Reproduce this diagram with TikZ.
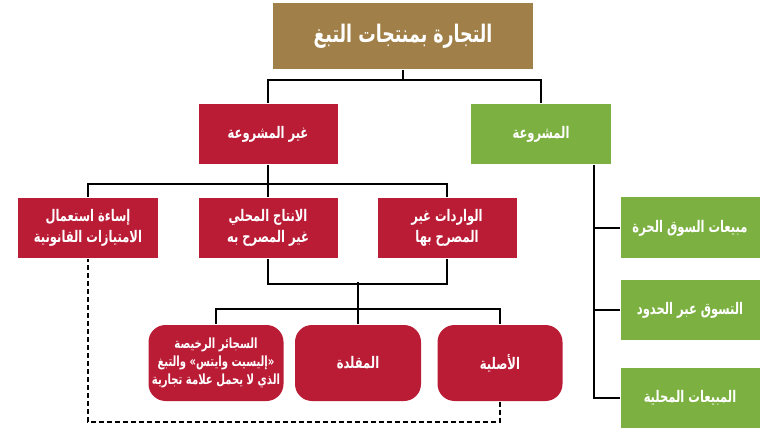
\documentclass[tikz,border=0pt]{standalone}
\usepackage{fontspec}
\newfontfamily\arabicfont[Script=Arabic, FakeStretch=0.72]{DejaVu Sans}
\TeXXeTstate=1
\newcommand{\artext}[1]{\beginR#1\endR}
\definecolor{goldbox}{RGB}{160,128,72}
\definecolor{redbox}{RGB}{186,28,54}
\definecolor{greenbox}{RGB}{124,177,66}

\begin{document}
\begin{tikzpicture}[x=1pt, y=-1pt, line width=1.8pt,
	every node/.style={font=\arabicfont\bfseries\fontsize{16}{21}\selectfont, text=white, align=center, inner sep=0pt},
	head/.style={fill=goldbox, minimum width=260pt, minimum height=66pt, font=\arabicfont\bfseries\fontsize{24.2}{26}\selectfont},
	bad/.style={fill=redbox, minimum width=139pt, minimum height=60pt},
	good/.style={fill=greenbox, minimum width=139pt, minimum height=60pt},
	kind/.style={fill=redbox, minimum height=76pt, rounded corners=17pt}]
	\useasboundingbox (0,0) rectangle (770,435);
	\node[head] (trade) at (403,36) {\artext{التجارة بمنتجات التبغ}};
	\node[bad] (illegal) at (268,134) {\artext{غير المشروعة}};
	\node[good, minimum width=140pt] (legal) at (541,134) {\artext{المشروعة}};
	\node[bad, minimum width=140pt] (misuse) at (88,228) {\artext{إساءة استعمال}\\\artext{الامتيازات القانونية}};
	\node[bad] (local) at (268,228) {\artext{الانتاج المحلي}\\\artext{غير المصرح به}};
	\node[bad] (imports) at (447,228) {\artext{الواردات غير}\\\artext{المصرح بها}};
	\node[kind, minimum width=135pt, font=\arabicfont\bfseries\fontsize{14}{18}\selectfont] (cheap) at (216,363) {\artext{السجائر الرخيصة}\\\artext{«إليسيت وايتس» والتبغ}\\\artext{الذي لا يحمل علامة تجارية}};
	\node[kind, minimum width=126pt] (fake) at (358,363) {\artext{المقلدة}};
	\node[kind, minimum width=125pt] (genuine) at (500,363) {\artext{الأصلية}};
	\node[good, minimum height=61pt] (dutyfree) at (690,228) {\artext{مبيعات السوق الحرة}};
	\node[good] (border) at (690,310) {\artext{التسوق عبر الحدود}};
	\node[good] (domestic) at (690,398) {\artext{المبيعات المحلية}};
	% tree lines
	\draw (trade.south) -- ++(0,10) coordinate (t1) -| (illegal.north);
	\draw (t1) -| (legal.north);
	\draw (illegal.south) -- (local.north);
	\draw (misuse.north) -- ++(0,-13) -| (imports.north);
	\draw (local.south) -- ++(0,25) -| (imports.south);
	\draw (fake.north) -- ++(0,-42);
	\draw (cheap.north) -- ++(0,-15) -| (genuine.north);
	\draw[dashed, dash pattern=on 5pt off 3pt] (genuine.south) -- ++(0,20) -| (misuse.south);
	% legal side
	\coordinate (gl) at ([xshift=-18pt]legal.south east);
	\draw (gl) |- (domestic.west);
	\draw (dutyfree.west) -- (dutyfree.west -| gl);
	\draw (border.west) -- (border.west -| gl);
\end{tikzpicture}
\end{document}
